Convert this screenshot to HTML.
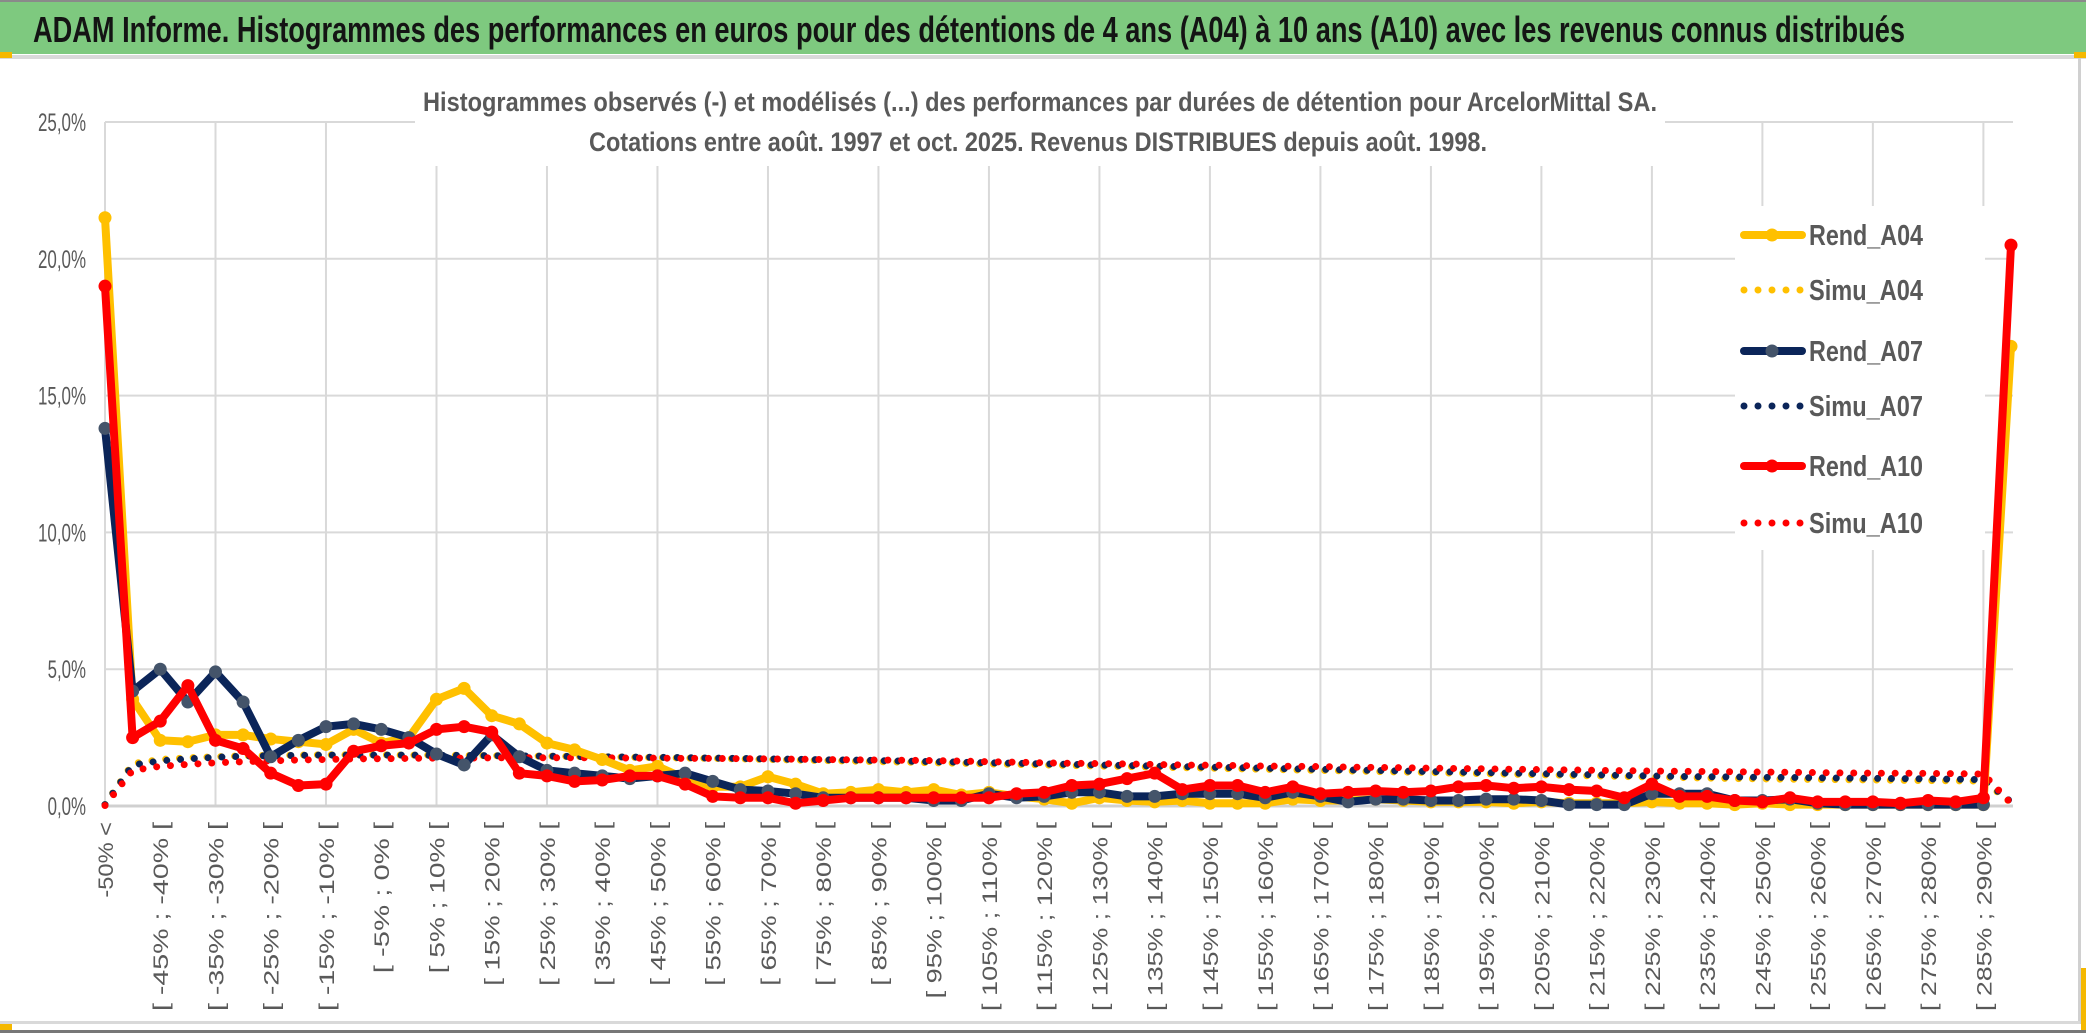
<!DOCTYPE html>
<html><head><meta charset="utf-8"><title>ADAM Informe - ArcelorMittal</title>
<style>
html,body{margin:0;padding:0;background:#fff;}
svg{display:block;}
text{font-family:"Liberation Sans","DejaVu Sans",sans-serif;}
</style></head>
<body>
<svg id="chart" width="2086" height="1033" viewBox="0 0 2086 1033" xmlns="http://www.w3.org/2000/svg">
  <rect x="0" y="0" width="2086" height="1033" fill="#ffffff"/>
  <rect x="0" y="0" width="2086" height="2" fill="#8a8a8a"/>
  <rect x="0" y="2" width="2086" height="52" fill="#7ec97f"/>
  <text x="33" y="42" font-size="36" font-weight="bold" fill="#141414" textLength="1872" lengthAdjust="spacingAndGlyphs">ADAM Informe. Histogrammes des performances en euros pour des détentions de 4 ans (A04) à 10 ans (A10) avec les revenus connus distribués</text>
  <rect x="0" y="55" width="2086" height="4" fill="#d9d9d9"/>
  <rect x="0" y="52" width="12" height="6" fill="#f5b800"/>
  <rect x="2074" y="52" width="12" height="6" fill="#f5b800"/>
  <rect x="2078" y="58" width="3" height="966" fill="#d0d0d0"/>
  <rect x="0" y="1021" width="2080" height="3" fill="#d9d9d9"/>
  <rect x="0" y="1030" width="2086" height="3" fill="#777"/>
  <rect x="0" y="1024" width="12" height="6" fill="#f5b800"/>
  <rect x="2081" y="968" width="5" height="62" fill="#f5b800"/>
  <g id="grid"></g>
  <g id="ylabels"></g>
  <g id="xlabels"></g>
  <rect x="415" y="80" width="1250" height="86" fill="#ffffff"/>
  <text x="423" y="111" font-size="27" font-weight="bold" fill="#595959" textLength="1234" lengthAdjust="spacingAndGlyphs">Histogrammes observés (-) et modélisés (...) des performances par durées de détention pour ArcelorMittal SA.</text>
  <text x="589" y="151" font-size="27" font-weight="bold" fill="#595959" textLength="898" lengthAdjust="spacingAndGlyphs">Cotations entre août. 1997 et oct. 2025. Revenus DISTRIBUES depuis août. 1998.</text>
  <g id="series"></g>
  <rect x="1735" y="206" width="250" height="344" fill="#ffffff"/>
  <g id="legend"></g>
</svg>
<script>
const categories = ["-50% <","[ -50% ; -45% [","[ -45% ; -40% [","[ -40% ; -35% [","[ -35% ; -30% [","[ -30% ; -25% [","[ -25% ; -20% [","[ -20% ; -15% [","[ -15% ; -10% [","[ -10% ; -5% [",
"[ -5% ; 0% [","[ 0% ; 5% [","[ 5% ; 10% [","[ 10% ; 15% [","[ 15% ; 20% [","[ 20% ; 25% [","[ 25% ; 30% [","[ 30% ; 35% [","[ 35% ; 40% [","[ 40% ; 45% [",
"[ 45% ; 50% [","[ 50% ; 55% [","[ 55% ; 60% [","[ 60% ; 65% [","[ 65% ; 70% [","[ 70% ; 75% [","[ 75% ; 80% [","[ 80% ; 85% [","[ 85% ; 90% [","[ 90% ; 95% [",
"[ 95% ; 100% [","[ 100% ; 105% [","[ 105% ; 110% [","[ 110% ; 115% [","[ 115% ; 120% [","[ 120% ; 125% [","[ 125% ; 130% [","[ 130% ; 135% [","[ 135% ; 140% [","[ 140% ; 145% [",
"[ 145% ; 150% [","[ 150% ; 155% [","[ 155% ; 160% [","[ 160% ; 165% [","[ 165% ; 170% [","[ 170% ; 175% [","[ 175% ; 180% [","[ 180% ; 185% [","[ 185% ; 190% [","[ 190% ; 195% [",
"[ 195% ; 200% [","[ 200% ; 205% [","[ 205% ; 210% [","[ 210% ; 215% [","[ 215% ; 220% [","[ 220% ; 225% [","[ 225% ; 230% [","[ 230% ; 235% [","[ 235% ; 240% [","[ 240% ; 245% [",
"[ 245% ; 250% [","[ 250% ; 255% [","[ 255% ; 260% [","[ 260% ; 265% [","[ 265% ; 270% [","[ 270% ; 275% [","[ 275% ; 280% [","[ 280% ; 285% [","[ 285% ; 290% [","290% <"];
const yTicks = [0,5,10,15,20,25];
const yTickLabels = ["0,0%","5,0%","10,0%","15,0%","20,0%","25,0%"];
const rendA04 = [21.5,3.9,2.4,2.35,2.6,2.6,2.45,2.35,2.25,2.8,
2.3,2.5,3.9,4.3,3.3,3.0,2.3,2.05,1.7,1.3,
1.45,1.0,0.7,0.7,1.07,0.8,0.45,0.5,0.6,0.5,
0.6,0.4,0.5,0.35,0.25,0.1,0.3,0.2,0.15,0.2,
0.1,0.1,0.1,0.25,0.2,0.2,0.25,0.2,0.15,0.15,
0.15,0.1,0.15,0.1,0.1,0.1,0.15,0.1,0.1,0.05,
0.1,0.05,0.05,0.05,0.05,0.05,0.05,0.05,0.05,16.8];
const rendA07 = [13.8,4.2,5.0,3.8,4.9,3.8,1.8,2.4,2.9,3.0,
2.8,2.5,1.9,1.5,2.6,1.8,1.3,1.2,1.1,1.0,
1.1,1.2,0.9,0.6,0.55,0.45,0.3,0.3,0.3,0.3,
0.2,0.2,0.45,0.3,0.35,0.5,0.5,0.35,0.35,0.45,
0.45,0.45,0.3,0.5,0.35,0.15,0.25,0.25,0.2,0.2,
0.25,0.25,0.2,0.05,0.05,0.05,0.45,0.45,0.45,0.2,
0.2,0.25,0.1,0.05,0.05,0.05,0.05,0.05,0.05,null];
const rendA10 = [19.0,2.5,3.1,4.4,2.4,2.1,1.2,0.75,0.8,2.0,
2.2,2.3,2.8,2.9,2.7,1.2,1.1,0.9,0.95,1.1,
1.1,0.8,0.35,0.3,0.3,0.1,0.2,0.3,0.3,0.3,
0.3,0.3,0.3,0.45,0.5,0.75,0.8,1.0,1.2,0.6,
0.75,0.75,0.5,0.7,0.45,0.5,0.55,0.5,0.55,0.7,
0.75,0.65,0.7,0.6,0.55,0.3,0.8,0.35,0.35,0.2,
0.15,0.3,0.15,0.15,0.15,0.1,0.2,0.15,0.3,20.5];
const simuA04 = [0.05,1.55,1.70,1.76,1.80,1.83,1.85,1.86,1.87,1.87,
1.87,1.86,1.86,1.85,1.84,1.83,1.82,1.81,1.80,1.78,
1.77,1.75,1.74,1.72,1.70,1.68,1.66,1.64,1.62,1.60,
1.58,1.56,1.54,1.52,1.50,1.48,1.46,1.44,1.42,1.40,
1.38,1.36,1.34,1.32,1.30,1.28,1.26,1.24,1.22,1.20,
1.18,1.16,1.14,1.12,1.10,1.08,1.06,1.04,1.02,1.00,
0.99,0.98,0.97,0.96,0.95,0.94,0.93,0.92,0.91,0.12];
const simuA07 = [0.05,1.50,1.65,1.72,1.78,1.82,1.84,1.85,1.86,1.86,
1.86,1.86,1.85,1.85,1.84,1.83,1.82,1.81,1.80,1.79,
1.78,1.77,1.75,1.74,1.72,1.71,1.69,1.68,1.66,1.64,
1.62,1.60,1.58,1.56,1.54,1.52,1.50,1.48,1.46,1.44,
1.42,1.40,1.38,1.36,1.34,1.32,1.30,1.28,1.26,1.24,
1.22,1.20,1.18,1.16,1.14,1.12,1.10,1.08,1.07,1.06,
1.05,1.04,1.03,1.02,1.01,1.00,0.99,0.98,0.96,0.15];
const simuA10 = [0.02,1.30,1.45,1.52,1.58,1.62,1.65,1.68,1.70,1.72,
1.73,1.74,1.75,1.75,1.76,1.76,1.76,1.76,1.76,1.75,
1.75,1.74,1.74,1.73,1.72,1.71,1.70,1.69,1.68,1.67,
1.66,1.64,1.62,1.60,1.58,1.56,1.55,1.54,1.52,1.50,
1.49,1.48,1.46,1.45,1.44,1.42,1.41,1.40,1.38,1.37,
1.36,1.34,1.33,1.32,1.30,1.29,1.28,1.27,1.26,1.25,
1.24,1.23,1.22,1.21,1.20,1.20,1.19,1.18,1.17,0.10];

const NS = "http://www.w3.org/2000/svg";
const X0 = 105, X1 = 2011, Y0 = 806, Y1 = 122, YMAX = 25;
const step = (X1 - X0) / (categories.length - 1);
function xs(i){ return X0 + i * step; }
function ys(v){ return Y0 - (v / YMAX) * (Y0 - Y1); }
function mk(tag, attrs, parent){
  const e = document.createElementNS(NS, tag);
  for (const k in attrs) e.setAttribute(k, attrs[k]);
  parent.appendChild(e);
  return e;
}
const grid = document.getElementById('grid');
for (let i = 0; i < categories.length; i += 4) {
  const l = mk('line', {x1: xs(i), x2: xs(i), y1: Y1, y2: Y0, stroke: '#d9d9d9', 'stroke-width': 2}, grid);
  
  
}
const ylab = document.getElementById('ylabels');
yTicks.forEach((t, k) => {
  const l = mk('line', {x1: X0, x2: 2013, y1: ys(t), y2: ys(t), stroke: t === 0 ? '#d0d0d0' : '#d9d9d9', 'stroke-width': t === 0 ? 3 : 2}, grid);
  
  
  const tx = mk('text', {x: 86, y: ys(t) + 9, 'font-size': 25, fill: '#595959', 'text-anchor': 'end', textLength: yTickLabels[k].length * 9.6, lengthAdjust: 'spacingAndGlyphs'}, ylab);
  tx.textContent = yTickLabels[k];
  
  
});
const xlab = document.getElementById('xlabels');
for (let i = 0; i < categories.length - 1; i += 2) {
  const cx = xs(i) + 8;
  const tx = mk('text', {x: cx, y: 822, 'font-size': 21, fill: '#595959', 'text-anchor': 'end', transform: 'rotate(-90 ' + cx + ' 822)', 'font-family': '"DejaVu Sans", sans-serif', textLength: categories[i].length * 12.6, lengthAdjust: 'spacingAndGlyphs'}, xlab);
  tx.textContent = categories[i];
  
  
}
const series = document.getElementById('series');
function ptsOf(arr){
  const p = [];
  arr.forEach((v, i) => { if (v !== null) p.push(xs(i).toFixed(1) + ',' + ys(v).toFixed(1)); });
  return p.join(' ');
}
function drawSimu(arr, color, name){
  const pl = mk('polyline', {points: ptsOf(arr), fill: 'none', stroke: color, 'stroke-width': 7, 'stroke-linecap': 'round', 'stroke-dasharray': '0 13.8'}, series);
  
  
}
function drawRend(arr, color, mcolor, name){
  const g = mk('g', {}, series);
  
  
  const pl = mk('polyline', {points: ptsOf(arr), fill: 'none', stroke: color, 'stroke-width': 8, 'stroke-linejoin': 'round'}, g);
  
  
  arr.forEach((v, i) => {
    if (v === null) return;
    const c = mk('circle', {cx: xs(i), cy: ys(v), r: 6.5, fill: mcolor}, g);
    
    
  });
}
drawSimu(simuA04, '#ffc000', 'simu-a04');
drawSimu(simuA07, '#0b2559', 'simu-a07');
drawSimu(simuA10, '#ff0000', 'simu-a10');
drawRend(rendA04, '#ffc000', '#ffc000', 'rend-a04');
drawRend(rendA07, '#0b2559', '#44546a', 'rend-a07');
drawRend(rendA10, '#ff0000', '#ff0000', 'rend-a10');

const legendNames = ["Rend_A04","Simu_A04","Rend_A07","Simu_A07","Rend_A10","Simu_A10"];
const legendColors = ['#ffc000','#ffc000','#0b2559','#0b2559','#ff0000','#ff0000'];
const legendY = [235,290,351,406,466,523];
const leg = document.getElementById('legend');
legendNames.forEach((n, k) => {
  const g = mk('g', {}, leg);
  
  
  const y = legendY[k];
  if (k % 2 === 0) {
    mk('line', {x1: 1744, x2: 1802, y1: y, y2: y, stroke: legendColors[k], 'stroke-width': 8, 'stroke-linecap': 'round'}, g);
    mk('circle', {cx: 1772, cy: y, r: 6.5, fill: k === 2 ? '#44546a' : legendColors[k]}, g);
  } else {
    mk('line', {x1: 1744, x2: 1802, y1: y, y2: y, stroke: legendColors[k], 'stroke-width': 7, 'stroke-linecap': 'round', 'stroke-dasharray': '0 14'}, g);
  }
  const tx = mk('text', {x: 1809, y: y + 10, 'font-size': 29, 'font-weight': 'bold', fill: '#595959', textLength: 114, lengthAdjust: 'spacingAndGlyphs'}, g);
  tx.textContent = n;
});
</script>
</body></html>
